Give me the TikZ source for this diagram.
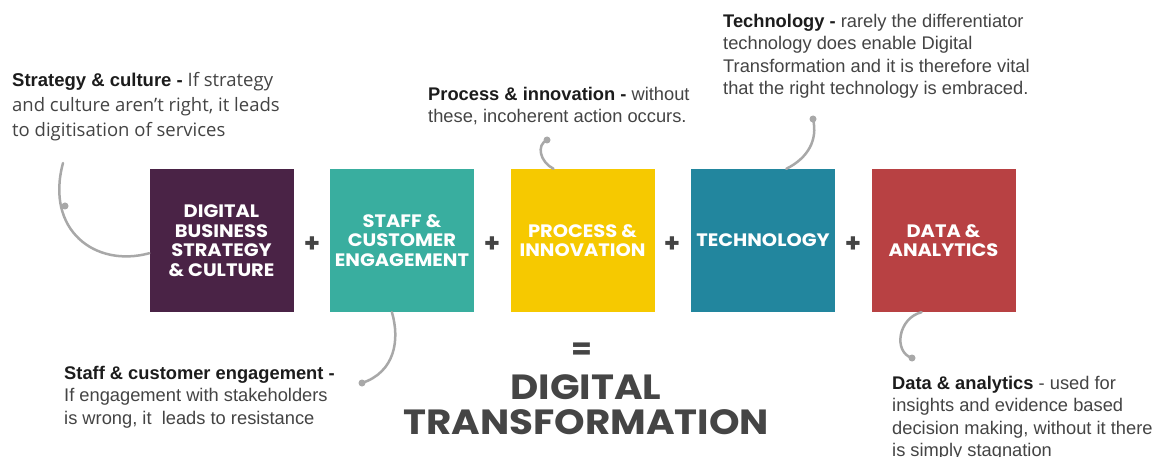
\documentclass[tikz,border=0pt]{standalone}
\usepackage{fontspec}
\setmainfont{Liberation Sans}
\newfontfamily\popfont{Poppins}
\newfontfamily\popbox{Poppins}[FakeStretch=1.08]
\newfontfamily\poptitle{Poppins}[FakeStretch=1.11]
\newfontfamily\osfont{Open Sans}
\definecolor{cpurple}{HTML}{4A2346}
\definecolor{cteal}{HTML}{39AE9F}
\definecolor{cyellow}{HTML}{F6C900}
\definecolor{cblue}{HTML}{22869E}
\definecolor{cred}{HTML}{B84143}
\definecolor{cline}{HTML}{A8A8A8}
\definecolor{ctext}{HTML}{444444}
\definecolor{cbold}{HTML}{1C1C1C}
\definecolor{ctitle}{HTML}{454545}
\begin{document}
\begin{tikzpicture}[x=1pt,y=-1pt,
  box/.style={minimum width=144pt, minimum height=143pt, inner sep=0pt, text=white,
    font=\popbox\bfseries\fontsize{18}{19.5}\selectfont, align=center},
  plus/.style={text=ctitle, font=\popfont\bfseries\fontsize{26}{26}\selectfont, inner sep=0pt},
  desc/.style={anchor=north west, inner sep=0pt, align=left, text=ctext,
    font=\fontsize{18.3}{22.5}\selectfont},
  conn/.style={draw=cline, line width=2.5pt, line cap=round},
  dot/.style={circle, fill=cline, inner sep=0pt, minimum size=7pt}
]
\useasboundingbox[fill=white] (0,0) rectangle (1159,457);

\node[box, fill=cpurple] (b1) at (221.5,240.5) {DIGITAL\\BUSINESS\\STRATEGY\\\& CULTURE};
\node[box, fill=cteal] (b2) at (402,240.5) {STAFF \&\\CUSTOMER\\ENGAGEMENT};
\node[box, fill=cyellow] (b3) at (582.5,240.5) {PROCESS \&\\INNOVATION};
\node[box, fill=cblue] (b4) at (763,240.5) {TECHNOLOGY};
\node[box, fill=cred] (b5) at (943.5,240.5) {DATA \&\\ANALYTICS};

\node[plus] (p1) at (312,245) {+};
\node[plus] (p2) at (492,245) {+};
\node[plus] (p3) at (672,245) {+};
\node[plus] (p4) at (853,245) {+};

\node[text=ctitle, font=\popfont\bfseries\fontsize{30}{30}\selectfont, inner sep=0pt] (eq) at (582,351) {=};
\node[anchor=north, text=ctitle, inner sep=0pt, align=center,
  font=\poptitle\bfseries\fontsize{35}{35}\selectfont] (dt) at (586,374) {DIGITAL\\TRANSFORMATION};

% descriptions
\node[desc, font=\osfont\fontsize{18.5}{25}\selectfont] (t1) at (12,72)
  {{\rmfamily\bfseries\color{cbold}Strategy \& culture -} If strategy\\and culture aren’t right, it leads\\to digitisation of services};
\node[desc] (t3) at (428,87)
  {{\bfseries\color{cbold}Process \& innovation -} without\\these, incoherent action occurs.};
\node[desc] (t4) at (723,14)
  {{\bfseries\color{cbold}Technology -} rarely the differentiator\\technology does enable Digital\\Transformation and it is therefore vital\\that the right technology is embraced.};
\node[desc] (t2) at (64,366)
  {{\bfseries\color{cbold}Staff \& customer engagement -}\\If engagement with stakeholders\\is wrong, it\ \ leads to resistance};
\node[desc] (t5) at (892,376)
  {{\bfseries\color{cbold}Data \& analytics} - used for\\insights and evidence based\\decision making, without it there\\is simply stagnation};

% connectors
\coordinate (c1) at (63,163);
\node[dot] (d1) at (65,206) {};
\node[dot] (d2) at (362,383) {};
\node[dot] (d3) at (547,140) {};
\node[dot] (d4) at (813,119) {};
\node[dot] (d5) at (912,358) {};
\draw[conn] (b1.190) .. controls (95,268) and (45,230) .. (c1);
\draw[conn] (b2.262) .. controls (400,340) and (395,372) .. (d2.center);
\draw[conn] (b3.112) .. controls (540,162) and (536,145) .. (d3.center);
\draw[conn] (b4.72) .. controls (808,158) and (818,140) .. (d4.center);
\draw[conn] (b5.253) .. controls (898,318) and (893,352) .. (d5.center);
\end{tikzpicture}
\end{document}
